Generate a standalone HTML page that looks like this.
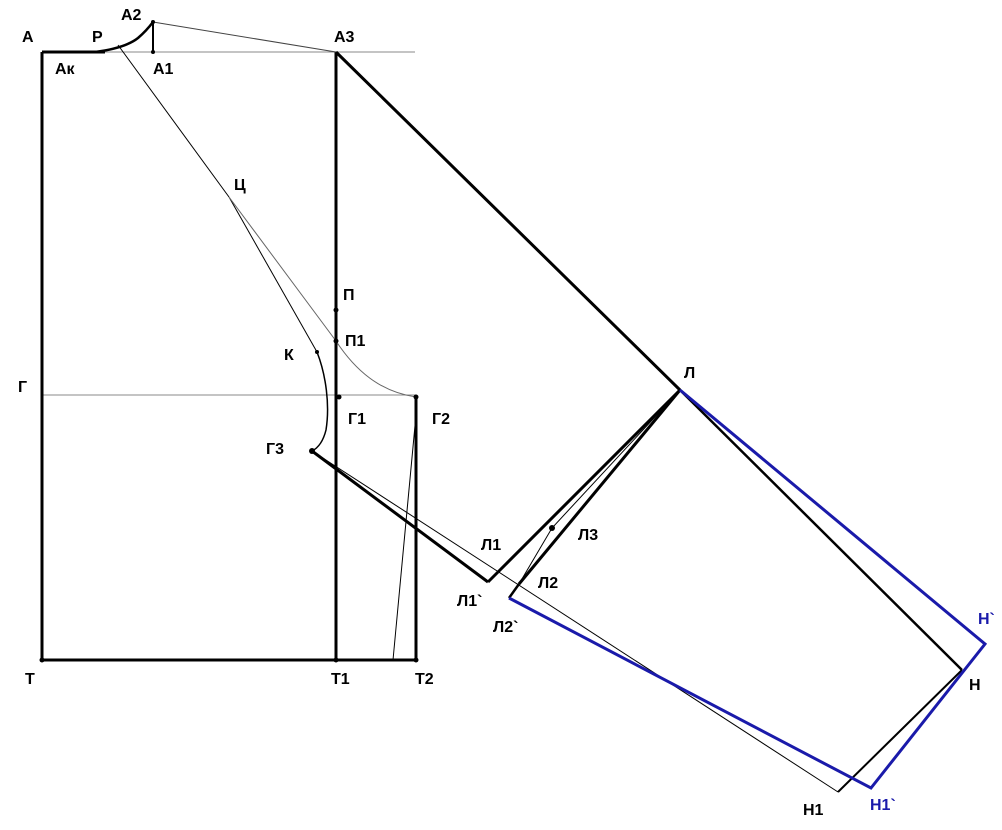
<!DOCTYPE html>
<html><head><meta charset="utf-8"><style>
body{margin:0;background:#fff}
svg text{font-family:"Liberation Sans","DejaVu Sans",sans-serif;font-weight:bold;font-size:16px}
</style></head><body>
<svg width="1002" height="825" viewBox="0 0 1002 825" xmlns="http://www.w3.org/2000/svg">
<g fill="none" stroke="#000">
<line x1="42" y1="52" x2="415" y2="52" stroke="#888" stroke-width="1"/>
<line x1="42" y1="395" x2="416" y2="395" stroke="#888" stroke-width="1"/>
<line x1="42" y1="52" x2="42" y2="660" stroke-width="3"/>
<line x1="42" y1="660" x2="416" y2="660" stroke-width="3"/>
<line x1="336" y1="52" x2="336" y2="660" stroke-width="3"/>
<line x1="416" y1="397" x2="416" y2="660" stroke-width="3"/>
<line x1="42" y1="52" x2="105" y2="52" stroke-width="3"/>
<path d="M95,52 C110,50 128,46 138,38 C145,32 150,26 153,22" stroke-width="2.5"/>
<line x1="153" y1="22" x2="153" y2="52" stroke-width="2"/>
<line x1="153" y1="22" x2="336" y2="52" stroke-width="1" stroke="#444"/>
<line x1="118" y1="45" x2="229" y2="197" stroke-width="1"/>
<line x1="229" y1="197" x2="317" y2="352" stroke-width="1"/>
<path d="M229,197 L336,341 C355,370 380,392 416,397" stroke-width="1" stroke="#666"/>
<path d="M317,352 C326,375 330,405 326,430 C323,442 318,448 312,451" stroke-width="1.5"/>
<line x1="416" y1="415" x2="393" y2="660" stroke-width="1"/>
<line x1="312" y1="451" x2="488" y2="582" stroke-width="3"/>
<line x1="312" y1="451" x2="838" y2="792" stroke-width="1"/>
<line x1="336" y1="52" x2="680" y2="390" stroke-width="3"/>
<line x1="680" y1="390" x2="962" y2="670" stroke-width="2.5"/>
<line x1="962" y1="670" x2="838" y2="792" stroke-width="2"/>
<line x1="488" y1="582" x2="498" y2="572" stroke-width="3"/>
<line x1="498" y1="572" x2="680" y2="390" stroke-width="3"/>
<line x1="519" y1="584" x2="680" y2="390" stroke-width="3"/>
<line x1="519" y1="584" x2="509" y2="598" stroke-width="2.5"/>
<path d="M680,390 L552,528 L519,584" stroke-width="1"/>
<path d="M680,390 L498,572" stroke-width="1"/>
</g>
<polyline points="680,390 985,644 871,788 509,598" fill="none" stroke="#1a1aaa" stroke-width="3"/>
<g fill="#000">
<circle cx="336" cy="310" r="2.5"/><circle cx="336" cy="341" r="2.5"/><circle cx="339" cy="397" r="2.5"/>
<circle cx="416" cy="397" r="2.5"/><circle cx="312" cy="451" r="3"/><circle cx="552" cy="528" r="3"/>
<circle cx="317" cy="352" r="2"/><circle cx="153" cy="22" r="2"/><circle cx="153" cy="52" r="2"/>
<circle cx="42" cy="660" r="2.5"/><circle cx="336" cy="660" r="2.5"/><circle cx="416" cy="660" r="2.5"/>
</g>
<text x="22" y="42">А</text><text x="92" y="42">Р</text><text x="121" y="20">А2</text>
<text x="334" y="42">А3</text><text x="55" y="74">Ак</text><text x="153" y="74">А1</text>
<text x="234" y="190">Ц</text><text x="343" y="300">П</text><text x="345" y="346">П1</text>
<text x="284" y="360">К</text><text x="18" y="392">Г</text><text x="348" y="424">Г1</text>
<text x="432" y="424">Г2</text><text x="266" y="454">Г3</text><text x="684" y="378">Л</text>
<text x="481" y="550">Л1</text><text x="578" y="540">Л3</text><text x="538" y="588">Л2</text>
<text x="457" y="606">Л1`</text><text x="493" y="632">Л2`</text>
<text x="25" y="684">Т</text><text x="331" y="684">Т1</text><text x="415" y="684">Т2</text>
<text x="969" y="690">Н</text><text x="803" y="815">Н1</text>
<text x="978" y="624" fill="#1a1aaa">Н`</text><text x="870" y="810" fill="#1a1aaa">Н1`</text>
</svg>
</body></html>
